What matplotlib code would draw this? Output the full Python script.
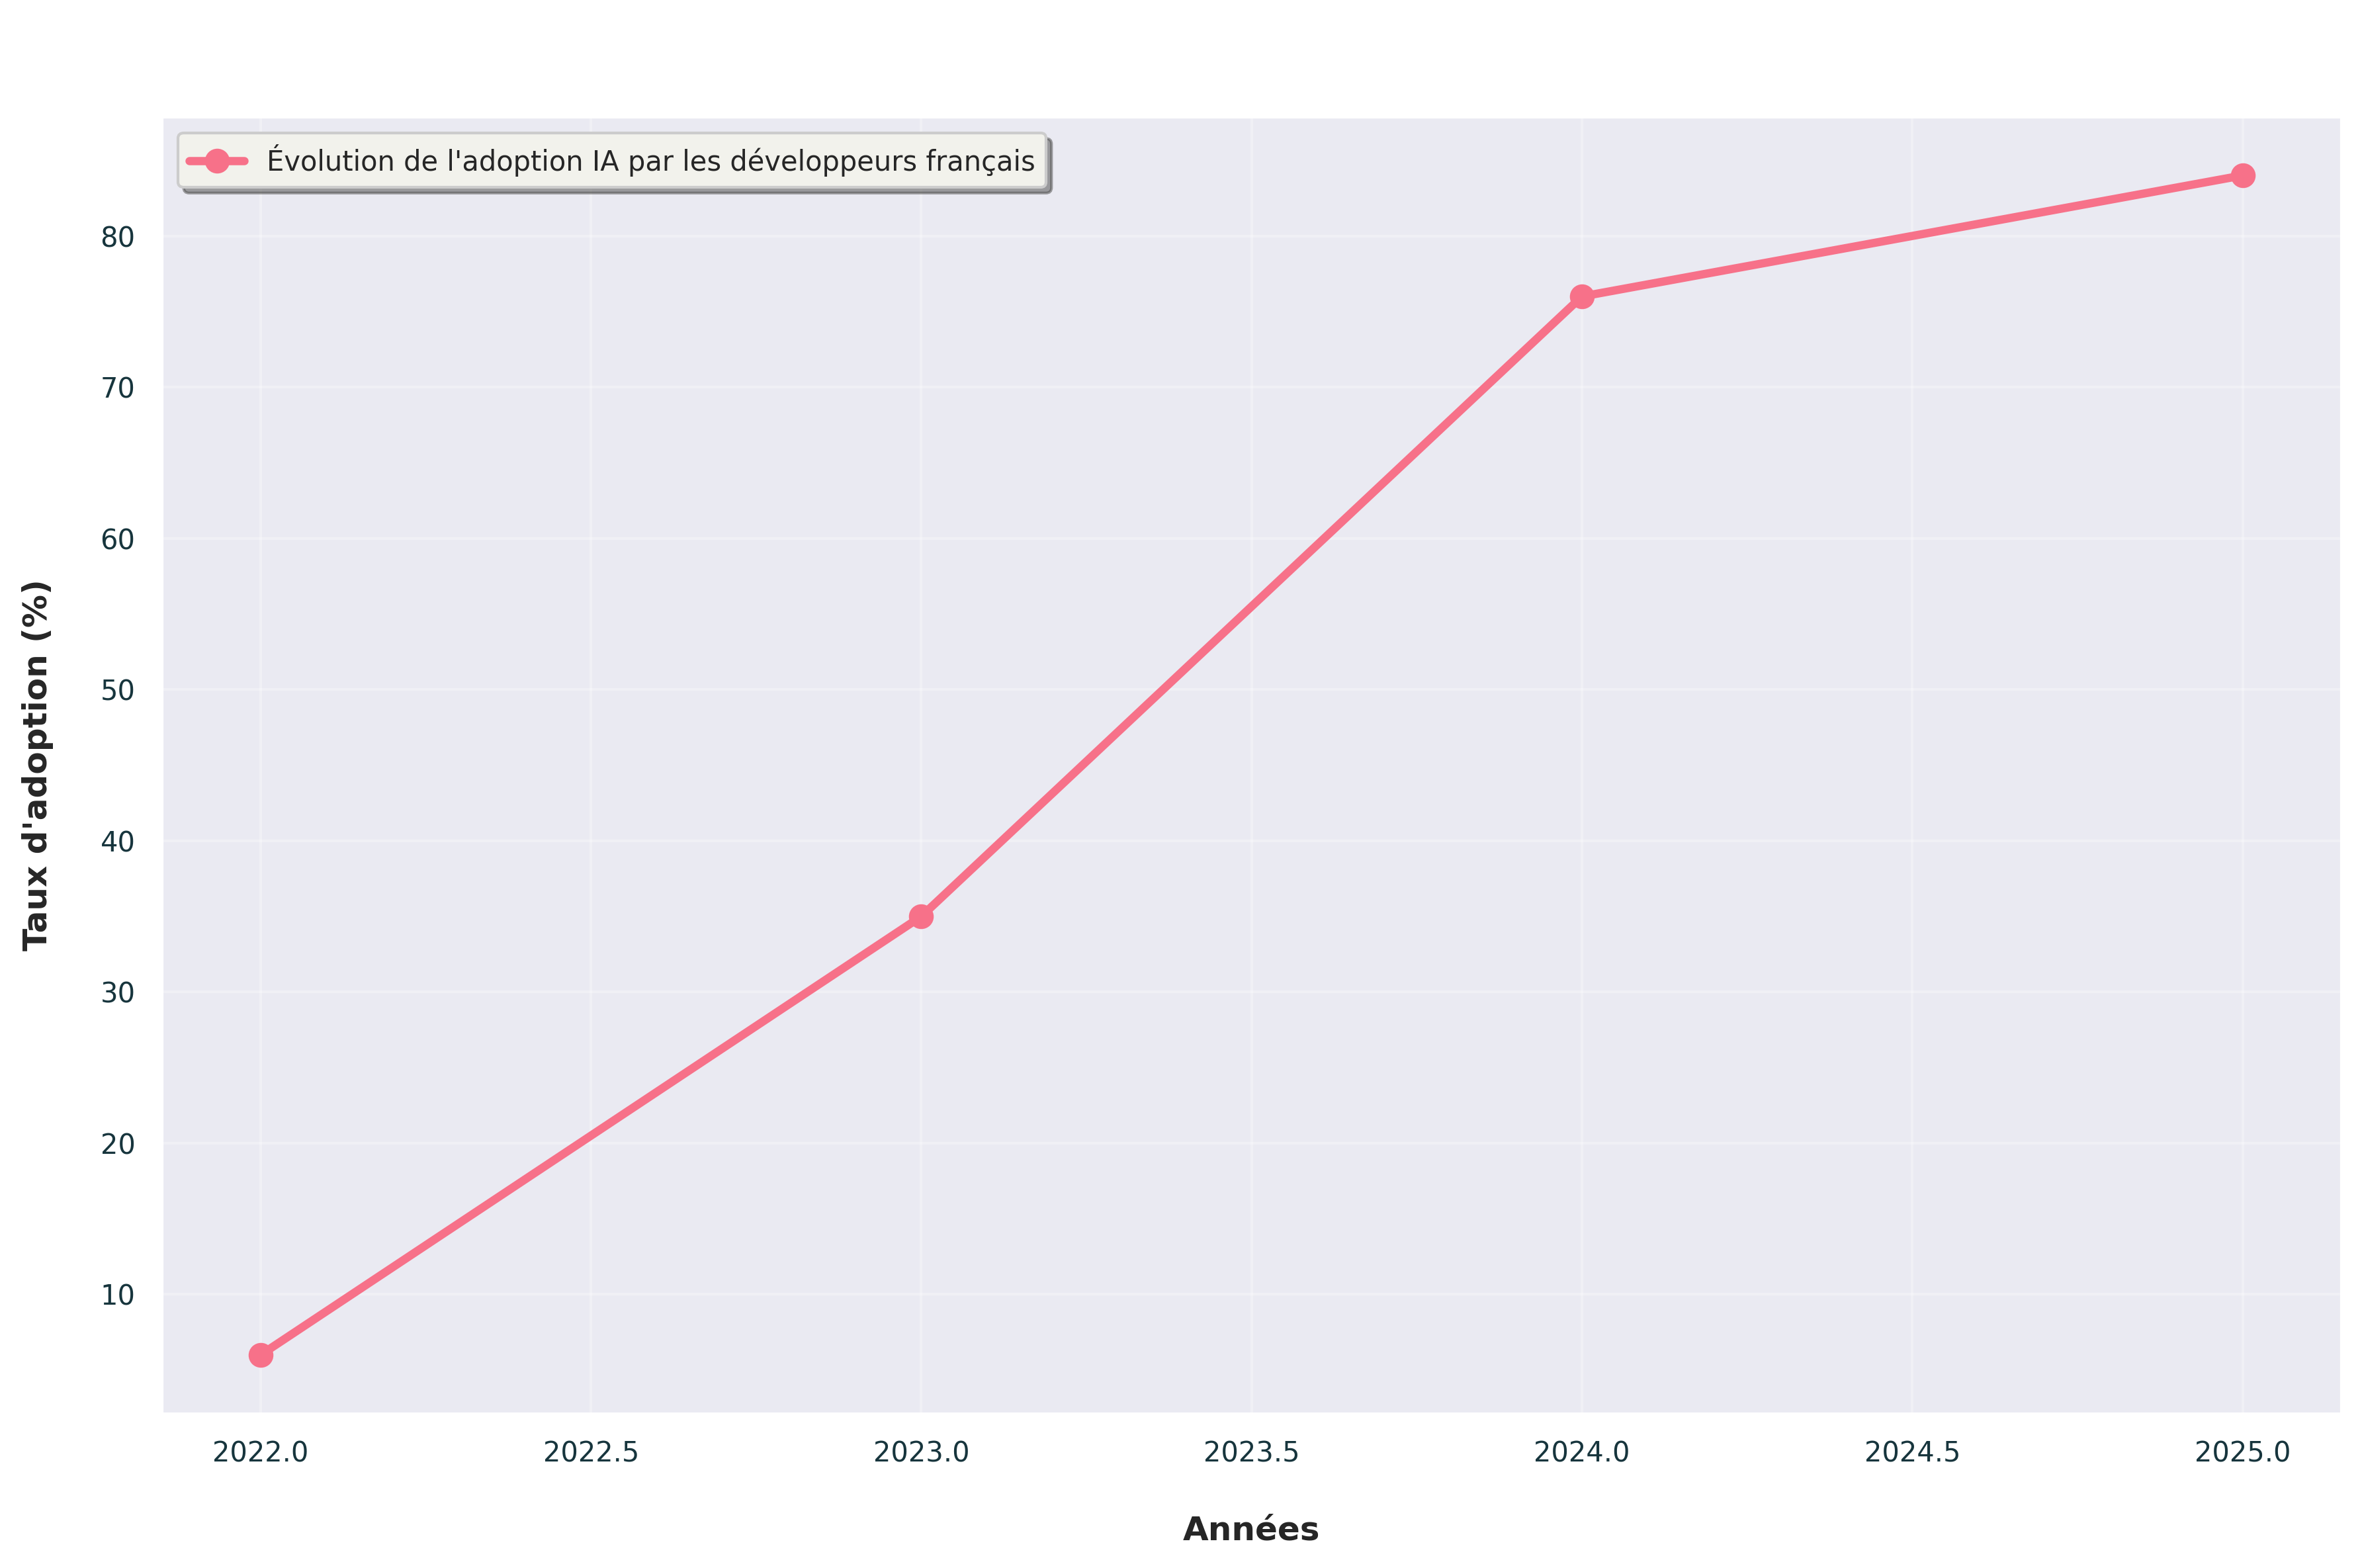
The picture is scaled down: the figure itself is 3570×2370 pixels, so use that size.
import matplotlib
matplotlib.use("Agg")
import matplotlib.pyplot as plt
import seaborn as sns

# données
annees = [2022, 2023, 2024, 2025]
taux_adoption = [6, 35, 76, 84]
label_serie = "Évolution de l'adoption IA par les développeurs français"

sns.set_theme(style="darkgrid", context="notebook")
couleur = sns.color_palette("husl", 8)[0]

fig = plt.figure(figsize=(11.9, 7.9), dpi=300)
ax = fig.add_axes([0.0684, 0.0983, 0.9230, 0.8274])

ax.plot(annees, taux_adoption, marker='o', linewidth=3, markersize=8,
        color=couleur, label=label_serie)

ax.set_xlabel('Années', fontsize=12, fontweight='bold', labelpad=17)
ax.set_ylabel("Taux d'adoption (%)", fontsize=12, fontweight='bold', labelpad=17)
ax.tick_params(colors='#17353d', labelsize=10)
ax.grid(True, alpha=0.3)

leg = ax.legend(loc='upper left', fontsize=10, shadow=True, fancybox=True,
                frameon=True, facecolor='#f2f2ec', edgecolor='#cccccc', framealpha=1,
                borderaxespad=0.6)

fig.savefig('out.png', dpi=300)
